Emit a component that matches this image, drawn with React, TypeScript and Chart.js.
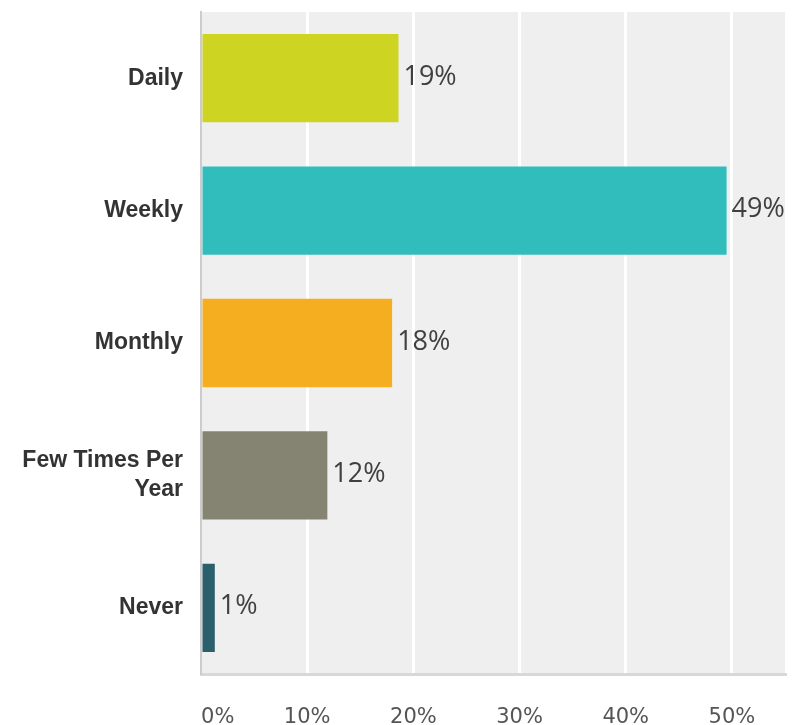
import React, { useEffect, useRef } from "react";
import { Chart, registerables } from "chart.js";

Chart.register(...registerables);

const categories: (string | string[])[] = ["Daily", "Weekly", "Monthly", ["Few Times Per", "Year"], "Never"];
const values: number[] = [18.6, 49.5, 18.0, 11.9, 1.3];
const valueLabels: string[] = ["19%", "49%", "18%", "12%", "1%"];
const barColors: string[] = ["#cdd422", "#32bdbd", "#f5ae1f", "#858473", "#2b5f6b"];
const xMin = 0;
const xMax = 55;
const xStep = 10;

const bgPlugin = {
  id: "plotBg",
  beforeDraw(chart: any) {
    const { ctx, chartArea } = chart;
    ctx.save();
    ctx.fillStyle = "#efefef";
    ctx.fillRect(chartArea.left, chartArea.top, chartArea.right - chartArea.left, chartArea.bottom - chartArea.top);
    ctx.restore();
  },
};

const valueLabelPlugin = {
  id: "valueLabels",
  afterDatasetsDraw(chart: any) {
    const { ctx } = chart;
    const meta = chart.getDatasetMeta(0);
    ctx.save();
    ctx.font = '27px "Open Sans"';
    ctx.fillStyle = "#404040";
    ctx.textAlign = "left";
    ctx.textBaseline = "middle";
    meta.data.forEach((bar: any, i: number) => {
      ctx.fillText(valueLabels[i], bar.x + 5, bar.y - 1);
    });
    ctx.restore();
  },
};

export default function App() {
  const ref = useRef<HTMLCanvasElement>(null);
  useEffect(() => {
    if (!ref.current) return;
    const chart = new Chart(ref.current, {
      type: "bar",
      data: {
        labels: categories,
        datasets: [
          {
            data: values,
            backgroundColor: barColors,
            borderWidth: 0,
            barPercentage: 0.667,
            categoryPercentage: 1,
          },
        ],
      },
      options: {
        indexAxis: "y",
        animation: false,
        responsive: false,
        maintainAspectRatio: false,
        layout: { padding: { top: 12, right: 19, left: 0, bottom: 0 } },
        plugins: {
          legend: { display: false },
          tooltip: { enabled: false },
          title: { display: false },
        },
        scales: {
          x: {
            type: "linear",
            min: xMin,
            max: xMax,
            afterBuildTicks: (scale: any) => {
              scale.ticks = scale.ticks.filter((t: any) => t.value % xStep === 0);
            },
            afterFit: (scale: any) => {
              scale.height = 51;
              scale.paddingLeft = 0;
              scale.paddingRight = 0;
            },
            ticks: {
              stepSize: xStep,
              padding: 31,
              color: "#555555",
              font: { family: '"DejaVu Sans"', size: 21 },
              maxRotation: 0,
              callback: (v: any) => (v === 0 ? "\u00a0\u00a0\u00a0\u00a0\u00a0" + v + "%" : v + "%"),
            },
            grid: {
              color: (c: any) => (c.tick && c.tick.value === 0 ? "rgba(0,0,0,0)" : "#ffffff"),
              lineWidth: 3,
              drawTicks: false,
              tickLength: 0,
            },
            border: { display: true, color: "#d8d8d8", width: 3 },
          },
          y: {
            type: "category",
            afterFit: (scale: any) => {
              scale.width = 201;
              scale.paddingTop = 0;
              scale.paddingBottom = 0;
            },
            ticks: {
              padding: 18,
              color: "#333333",
              font: { family: '"Liberation Sans", Arial', size: 23, weight: "bold", lineHeight: 1.25 },
            },
            grid: { display: false, drawTicks: false, tickLength: 0 },
            border: { display: true, color: "#cccccc", width: 2 },
          },
        },
      },
      plugins: [bgPlugin, valueLabelPlugin],
    });
    return () => chart.destroy();
  }, []);
  return (
    <div style={{ position: "fixed", left: 0, top: 0, width: 804, height: 725, background: "#ffffff" }}>
      <canvas ref={ref} width={804} height={725} style={{ display: "block", width: 804, height: 725 }} />
    </div>
  );
}
